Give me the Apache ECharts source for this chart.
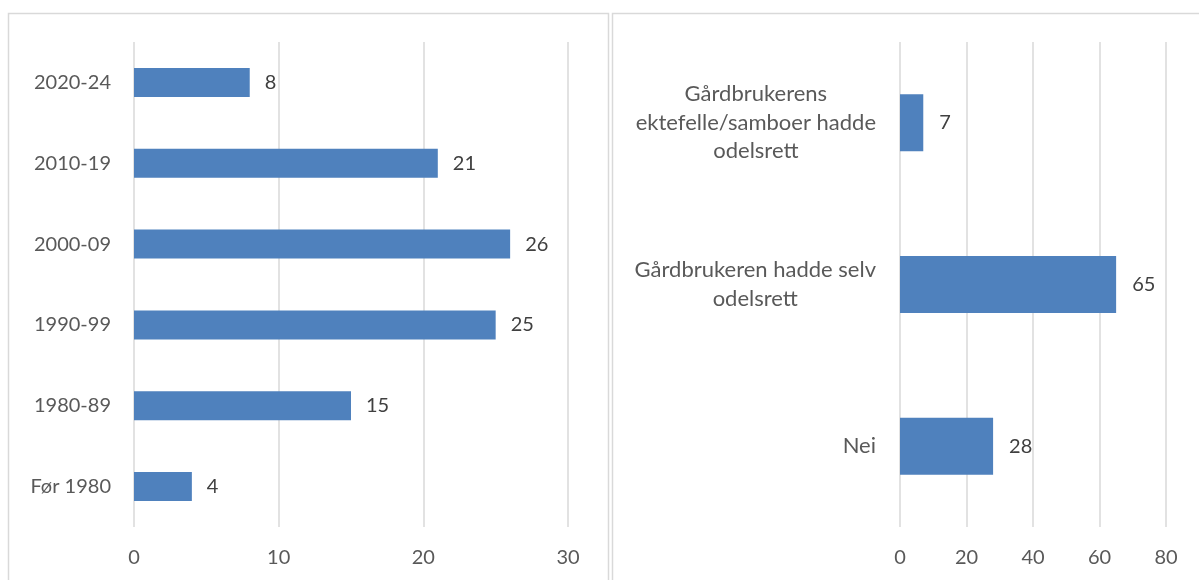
<!DOCTYPE html>
<html>
<head>
<meta charset="utf-8">
<script src="https://cdn.jsdelivr.net/npm/echarts@6/dist/echarts.min.js"></script>
<style>
html,body{margin:0;padding:0;background:#fff;}
#c{width:1199px;height:580px;}
</style>
</head>
<body>
<div id="c"></div>
<script>
// Left panel data
const periodCategories = ['2020-24', '2010-19', '2000-09', '1990-99', '1980-89', 'Før 1980'];
const periodValues = [8, 21, 26, 25, 15, 4];
const leftTicks = [0, 10, 20, 30];

// Right panel data
const odelCategories = ['Gårdbrukerens\nektefelle/samboer hadde\nodelsrett', 'Gårdbrukeren hadde selv\nodelsrett', 'Nei'];
const odelValues = [7, 65, 28];
const rightTicks = [0, 20, 40, 60, 80];

const FONT = 'Lato';
const TXT = '#595959';
const GRID = '#D9D9D9';
const BAR = '#4F81BD';

const chart = echarts.init(document.getElementById('c'), null, {renderer: 'canvas'});

function valueAxis(gridIndex, ticks) {
  return {
    type: 'value', gridIndex,
    min: ticks[0], max: ticks[ticks.length - 1], interval: ticks[1] - ticks[0],
    axisLine: {show: false}, axisTick: {show: false},
    splitLine: {show: true, lineStyle: {color: GRID, width: 1.5}},
    axisLabel: {color: TXT, fontFamily: FONT, fontSize: 20, margin: 21}
  };
}

chart.setOption({
  animation: false,
  backgroundColor: '#fff',
  graphic: [
    {type: 'rect', shape: {x: 8.5, y: 13.5, width: 600, height: 700}, style: {fill: 'none', stroke: GRID, lineWidth: 1.5}, silent: true},
    {type: 'rect', shape: {x: 612.5, y: 13.5, width: 700, height: 700}, style: {fill: 'none', stroke: GRID, lineWidth: 1.5}, silent: true}
  ],
  grid: [
    {left: 134, top: 42, width: 434, height: 485},
    {left: 900, top: 42, width: 266, height: 485}
  ],
  xAxis: [valueAxis(0, leftTicks), valueAxis(1, rightTicks)],
  yAxis: [
    {
      type: 'category', gridIndex: 0, data: periodCategories, inverse: true,
      axisLine: {show: false}, axisTick: {show: false},
      axisLabel: {color: TXT, fontFamily: FONT, fontSize: 20, margin: 23}
    },
    {
      type: 'category', gridIndex: 1, data: odelCategories, inverse: true,
      axisLine: {show: false}, axisTick: {show: false},
      axisLabel: {
        color: TXT, fontFamily: FONT, fontSize: 22, margin: 24, align: 'right', lineHeight: 28.5,
        formatter: v => v.split('\n').map(s => '{c|' + s + '}').join('\n'),
        rich: {c: {align: 'center', color: TXT, fontFamily: FONT, fontSize: 22, lineHeight: 28.5}}
      }
    }
  ],
  series: [
    {
      type: 'bar', xAxisIndex: 0, yAxisIndex: 0, data: periodValues, barWidth: 29,
      itemStyle: {color: BAR},
      label: {show: true, position: 'right', distance: 15, color: '#404040', fontFamily: FONT, fontSize: 20}
    },
    {
      type: 'bar', xAxisIndex: 1, yAxisIndex: 1, data: odelValues, barWidth: 57,
      itemStyle: {color: BAR},
      label: {show: true, position: 'right', distance: 16, color: '#404040', fontFamily: FONT, fontSize: 20}
    }
  ]
});
</script>
</body>
</html>
